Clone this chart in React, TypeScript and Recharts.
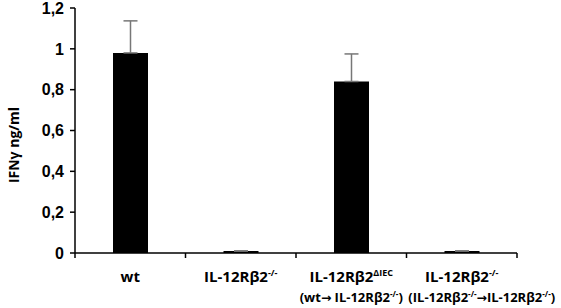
import React from 'react';
import { BarChart, Bar, XAxis, YAxis, ErrorBar, Label } from 'recharts';

const groups = ['wt', 'IL-12Rβ2', 'IL-12Rβ2', 'IL-12Rβ2'];
const groupSup = ['', '-/-', 'ΔIEC', '-/-'];
// "|" toggles superscript, "~" marks the arrow
const subLabels = ['', '', '(wt~ IL-12Rβ2|-/-|)', '(IL-12Rβ2|-/-|~IL-12Rβ2|-/-|)'];
const subShift = [0, 0, 0, 20];
const ifng = [0.98, 0.01, 0.84, 0.01];
const sem = [0.157, 0, 0.135, 0];
const yTicks = [0, 0.2, 0.4, 0.6, 0.8, 1, 1.2];

const data = groups.map((g, i) => ({ name: i, ifng: ifng[i], err: [0, sem[i]] }));

const W = 561;
const H = 308;
const M = { top: 8, right: 44, bottom: 0, left: 0 };
const Y_W = 75;
const X_H = 55;
const HALF_BAND = (W - M.right - Y_W) / groups.length / 2;
const FONT = '"Liberation Sans", Arial, sans-serif';
const LABEL_FONT = '"Open Sans", "Liberation Sans", sans-serif';

const renderParts = (s: string, size: number) => {
  const out: React.ReactNode[] = [];
  s.split('|').forEach((p, k) => {
    if (k % 2 === 1) {
      out.push(<tspan key={k} baselineShift="super" fontSize={size * 0.62}>{p}</tspan>);
    } else {
      p.split('~').forEach((q, j) => {
        if (j > 0) out.push(<tspan key={k + '-a' + j} fontFamily='"DejaVu Sans", sans-serif' fontSize={size * 0.95}>→</tspan>);
        if (q) out.push(<tspan key={k + '-' + j}>{q}</tspan>);
      });
    }
  });
  return out;
};

const CategoryTick = (props: any) => {
  const { x, y, payload, index } = props;
  const i = payload.value as number;
  const top = y - 8;
  return (
    <g>
      {index === 0 && <line x1={x - HALF_BAND} x2={x - HALF_BAND} y1={top} y2={top + 5} stroke="#000" strokeWidth={1.5} />}
      <line x1={x + HALF_BAND} x2={x + HALF_BAND} y1={top} y2={top + 5} stroke="#000" strokeWidth={1.5} />
      <text x={x} y={top + 29} textAnchor="middle" fontFamily={LABEL_FONT} fontWeight="bold" fontSize={15} fill="#000">
        <tspan>{groups[i]}</tspan>
        {groupSup[i] && <tspan baselineShift="super" fontSize={9}>{groupSup[i]}</tspan>}
      </text>
      {subLabels[i] && (
        <text x={x + subShift[i]} y={top + 49} textAnchor="middle" fontFamily={LABEL_FONT} fontWeight="bold" fontSize={13} fill="#000">
          {renderParts(subLabels[i], 13)}
        </text>
      )}
    </g>
  );
};

export default function App() {
  return (
    <div style={{ position: 'absolute', left: 0, top: 0, background: '#fff' }}>
      <BarChart width={W} height={H} data={data} margin={M} barSize={35}>
        <XAxis
          dataKey="name"
          height={X_H}
          axisLine={{ stroke: '#000', strokeWidth: 1.5 }}
          tickLine={false}
          tick={<CategoryTick />}
          interval={0}
        />
        <YAxis
          width={Y_W}
          domain={[0, 1.2]}
          ticks={yTicks}
          interval={0}
          axisLine={{ stroke: '#000', strokeWidth: 1.5 }}
          tickLine={{ stroke: '#000', strokeWidth: 1.5 }}
          tickSize={5}
          tickMargin={6}
          tickFormatter={(v: number) => String(v).replace('.', ',')}
          tick={{ fill: '#000', fontSize: 16, fontWeight: 'bold', fontFamily: FONT }}
        >
          <Label
            content={() => (
              <text
                x={15}
                y={145}
                transform="rotate(-90 15 145)"
                textAnchor="middle"
                dominantBaseline="middle"
                fontFamily={LABEL_FONT}
                fontWeight="bold"
                fontSize={14}
                fill="#000"
              >
                IFNγ ng/ml
              </text>
            )}
          />
        </YAxis>
        <Bar dataKey="ifng" fill="#000" isAnimationActive={false}>
          <ErrorBar dataKey="err" width={7} stroke="#777" strokeWidth={1.5} direction="y" />
        </Bar>
      </BarChart>
    </div>
  );
}
